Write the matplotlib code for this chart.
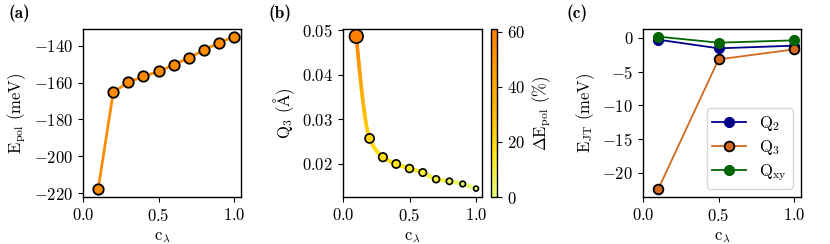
import numpy as np
import matplotlib
matplotlib.use("Agg")
import matplotlib.pyplot as plt
from matplotlib.collections import LineCollection

plt.rcParams["font.family"] = "serif"
plt.rcParams["font.serif"] = ["cmr10", "DejaVu Serif"]
plt.rcParams["mathtext.fontset"] = "cm"
plt.rcParams["axes.formatter.use_mathtext"] = True
plt.rcParams["font.size"] = 12

# (a) polaron energy vs c_lambda
c_lam = [0.1, 0.2, 0.3, 0.4, 0.5, 0.6, 0.7, 0.8, 0.9, 1.0]
e_pol = [-218.0, -165.3, -159.8, -156.7, -154.0, -150.4, -146.6, -142.4, -138.4, -135.1]

# (b) Q3 distortion and relative change of E_pol
q3 = [0.04864, 0.02565, 0.02143, 0.0199, 0.01887, 0.01797, 0.01646, 0.0160, 0.0154, 0.01435]
de_pol = [61.0, 22.4, 18.3, 16.0, 14.0, 11.3, 8.5, 5.4, 2.4, 0.0]

# (c) Jahn-Teller energies
c_jt = [0.1, 0.5, 1.0]
ejt_q2 = [-0.25, -1.54, -1.14]
ejt_q3 = [-22.5, -3.18, -1.69]
ejt_qxy = [0.2, -0.7, -0.35]


def pchip(x, y, xn):
    # monotone cubic, only used to draw a smooth guide line
    x = np.asarray(x); y = np.asarray(y)
    h = np.diff(x); d = np.diff(y) / h
    m = np.zeros_like(y)
    for k in range(1, len(x) - 1):
        if d[k - 1] * d[k] > 0:
            w1 = 2 * h[k] + h[k - 1]; w2 = h[k] + 2 * h[k - 1]
            m[k] = (w1 + w2) / (w1 / d[k - 1] + w2 / d[k])
    m[0] = ((2 * h[0] + h[1]) * d[0] - h[0] * d[1]) / (h[0] + h[1])
    if np.sign(m[0]) != np.sign(d[0]):
        m[0] = 0
    m[-1] = ((2 * h[-1] + h[-2]) * d[-1] - h[-1] * d[-2]) / (h[-1] + h[-2])
    if np.sign(m[-1]) != np.sign(d[-1]):
        m[-1] = 0
    idx = np.clip(np.searchsorted(x, xn) - 1, 0, len(x) - 2)
    t = (xn - x[idx]) / h[idx]
    h00 = 2 * t**3 - 3 * t**2 + 1; h10 = t**3 - 2 * t**2 + t
    h01 = -2 * t**3 + 3 * t**2; h11 = t**3 - t**2
    return h00 * y[idx] + h10 * h[idx] * m[idx] + h01 * y[idx + 1] + h11 * h[idx] * m[idx + 1]


fig = plt.figure(figsize=(8.3, 2.44), dpi=100)
W, H = 830, 244
def ax_at(l, t, r, b):
    return fig.add_axes([l / W, 1 - b / H, (r - l) / W, (b - t) / H])

axa = ax_at(83, 29, 241, 197)
axb = ax_at(343, 29, 482, 197)
cax = ax_at(491, 29, 497, 197)
axc = ax_at(643, 29, 801, 197)

# (a)
axa.plot(c_lam, e_pol, "-o", color="darkorange", lw=2, ms=7.5, mec="black", mew=1.3)
axa.set_xlim(0, 1.045)
axa.set_xlabel(r"c$_\lambda$")
axa.set_ylabel(r"E$_{\rm pol}$ (meV)")
axa.set_yticks([-220, -200, -180, -160, -140])

# (b)
cmap = plt.get_cmap("Wistia")
norm = plt.Normalize(0, max(de_pol))
xs = np.linspace(c_lam[0], c_lam[-1], 300)
ys = pchip(c_lam, q3, xs)
cs = pchip(c_lam, de_pol, xs)
pts = np.array([xs, ys]).T.reshape(-1, 1, 2)
segs = np.concatenate([pts[:-1], pts[1:]], axis=1)
lc = LineCollection(segs, cmap=cmap, norm=norm, linewidth=2.6, capstyle="round")
lc.set_array(0.5 * (cs[:-1] + cs[1:]))
axb.add_collection(lc)
sizes = 8 + 0.85 * np.array(de_pol)
sc = axb.scatter(c_lam, q3, s=sizes * 1.6, c=de_pol, cmap=cmap, norm=norm,
                 edgecolors="black", linewidths=1.2, zorder=3)
axb.set_xlim(0, 1.045)
axb.set_ylim(0.01246, 0.0503)
axb.set_xlabel(r"c$_\lambda$")
axb.set_ylabel(r"Q$_3$ ($\rm\AA$)")
axb.set_yticks([0.02, 0.03, 0.04, 0.05])
cb = fig.colorbar(sc, cax=cax)
cb.set_ticks([0, 20, 40, 60])
cb.set_label(r"$\Delta$E$_{\rm pol}$ (%)")
cb.outline.set_linewidth(1.0)

# (c)
axc.plot(c_jt, ejt_q2, "-o", color="darkblue", lw=1.3, ms=7, label=r"Q$_2$")
axc.plot(c_jt, ejt_q3, "-o", color="chocolate", lw=1.3, ms=7, mec="black", mew=1.3, label=r"Q$_3$")
axc.plot(c_jt, ejt_qxy, "-o", color="darkgreen", lw=1.3, ms=7, label=r"Q$_{\rm xy}$")
axc.set_xlim(0, 1.045)
axc.set_xlabel(r"c$_\lambda$")
axc.set_ylabel(r"E$_{\rm JT}$ (meV)")
axc.set_yticks([-20, -15, -10, -5, 0])
axc.legend(loc="lower right", fontsize=12, labelspacing=0.3, borderpad=0.35)

for ax in (axa, axb, axc):
    ax.set_xticks([0.0, 0.5, 1.0])
    for s in ax.spines.values():
        s.set_linewidth(1.0)

for xp, lab in ((8, "(a)"), (268, "(b)"), (566, "(c)")):
    fig.text(xp / W, 1 - 13 / H, lab, family="cmb10", va="center", fontsize=12.5)

fig.savefig("out.png", dpi=100)
